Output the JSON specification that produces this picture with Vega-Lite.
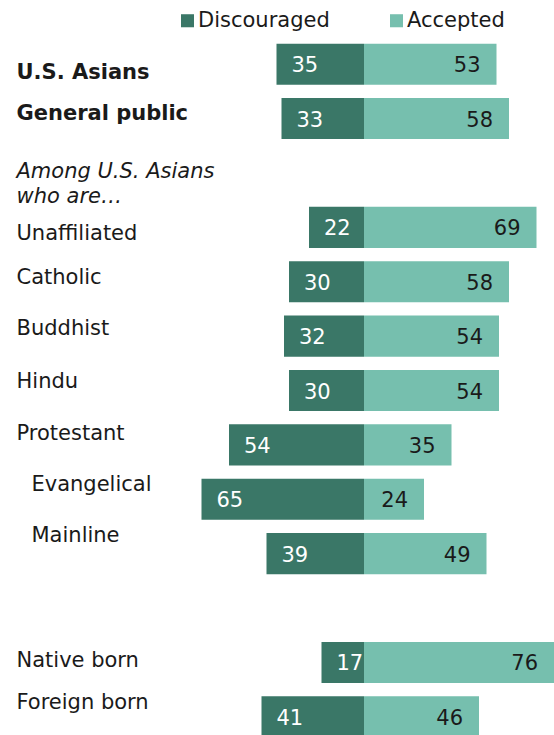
{
  "$schema": "https://vega.github.io/schema/vega-lite/v6.json",
  "width": 554,
  "height": 707,
  "autosize": {"type": "none"},
  "padding": {"top": 37, "left": 0, "right": 0, "bottom": 0},
  "config": {"view": {"stroke": null}, "font": "DejaVu Sans"},
  "data": {
    "values": [
      {"group": "U.S. Asians", "response": "Discouraged", "value": 35},
      {"group": "U.S. Asians", "response": "Accepted", "value": 53},
      {"group": "General public", "response": "Discouraged", "value": 33},
      {"group": "General public", "response": "Accepted", "value": 58},
      {"group": "Unaffiliated", "response": "Discouraged", "value": 22},
      {"group": "Unaffiliated", "response": "Accepted", "value": 69},
      {"group": "Catholic", "response": "Discouraged", "value": 30},
      {"group": "Catholic", "response": "Accepted", "value": 58},
      {"group": "Buddhist", "response": "Discouraged", "value": 32},
      {"group": "Buddhist", "response": "Accepted", "value": 54},
      {"group": "Hindu", "response": "Discouraged", "value": 30},
      {"group": "Hindu", "response": "Accepted", "value": 54},
      {"group": "Protestant", "response": "Discouraged", "value": 54},
      {"group": "Protestant", "response": "Accepted", "value": 35},
      {"group": "Evangelical", "response": "Discouraged", "value": 65},
      {"group": "Evangelical", "response": "Accepted", "value": 24},
      {"group": "Mainline", "response": "Discouraged", "value": 39},
      {"group": "Mainline", "response": "Accepted", "value": 49},
      {"group": "Native born", "response": "Discouraged", "value": 17},
      {"group": "Native born", "response": "Accepted", "value": 76},
      {"group": "Foreign born", "response": "Discouraged", "value": 41},
      {"group": "Foreign born", "response": "Accepted", "value": 46}
    ]
  },
  "transform": [
    {"calculate": "datum.response == 'Discouraged' ? -datum.value : datum.value", "as": "signed"}
  ],
  "encoding": {
    "y": {
      "field": "group",
      "type": "nominal",
      "sort": null,
      "scale": {
        "domain": ["U.S. Asians", "General public", "Among U.S. Asians|who are…", "Unaffiliated", "Catholic", "Buddhist", "Hindu", "Protestant", "Evangelical", "Mainline", " ", "Native born", "Foreign born"],
        "paddingInner": 0.245,
        "paddingOuter": 0.1225
      },
      "axis": {
        "title": null,
        "domain": false,
        "ticks": false,
        "tickSize": 0,
        "labelAlign": "left",
        "labelFont": "DejaVu Sans",
        "labelFontSize": 21,
        "labelColor": "#1a1a1a",
        "labelLimit": 400,
        "labelLineHeight": 25,
        "labelExpr": "split(datum.label, '|')",
        "labelPadding": {"condition": {"test": "datum.value == 'Evangelical' || datum.value == 'Mainline'", "value": -31}, "value": -16},
        "labelFontWeight": {"condition": {"test": "datum.value == 'U.S. Asians' || datum.value == 'General public'", "value": "bold"}, "value": "normal"},
        "labelFontStyle": {"condition": {"test": "indexof(datum.value, 'Among') == 0", "value": "italic"}, "value": "normal"},
        "labelOffset": {
          "condition": [
            {"test": "datum.value == 'U.S. Asians'", "value": 9},
            {"test": "datum.value == 'General public'", "value": -5},
            {"test": "indexof(datum.value, 'Among') == 0", "value": -1},
            {"test": "datum.value == 'Unaffiliated'", "value": 7},
            {"test": "datum.value == 'Catholic'", "value": -4},
            {"test": "datum.value == 'Buddhist'", "value": -7},
            {"test": "datum.value == 'Hindu'", "value": -9},
            {"test": "datum.value == 'Protestant'", "value": -11},
            {"test": "datum.value == 'Evangelical'", "value": -14},
            {"test": "datum.value == 'Mainline'", "value": -18},
            {"test": "datum.value == 'Native born'", "value": -1},
            {"test": "datum.value == 'Foreign born'", "value": -14}
          ],
          "value": 0
        }
      }
    }
  },
  "layer": [
    {
      "mark": {"type": "bar"},
      "encoding": {
        "x": {"field": "signed", "type": "quantitative", "scale": {"domain": [-145.6, 76], "nice": false, "zero": false}, "axis": null},
        "color": {
          "field": "response",
          "type": "nominal",
          "scale": {"domain": ["Discouraged", "Accepted"], "range": ["#3a7767", "#76bfae"]},
          "legend": {
            "title": null,
            "orient": "none",
            "legendX": 177,
            "legendY": -27,
            "direction": "horizontal",
            "symbolType": "square",
            "symbolSize": 170,
            "symbolStrokeWidth": 0,
            "symbolOpacity": 1,
            "labelFont": "DejaVu Sans",
            "labelFontSize": 21,
            "labelColor": "#1a1a1a",
            "labelOffset": 0,
            "columnPadding": 56,
            "padding": 0
          }
        }
      }
    },
    {
      "transform": [{"filter": "datum.response == 'Discouraged'"}],
      "mark": {"type": "text", "align": "left", "dx": 15, "dy": 2, "color": "white", "fontSize": 21, "font": "DejaVu Sans"},
      "encoding": {
        "x": {"field": "signed", "type": "quantitative"},
        "text": {"field": "value", "type": "quantitative"}
      }
    },
    {
      "transform": [{"filter": "datum.response == 'Accepted'"}],
      "mark": {"type": "text", "align": "right", "dx": -16, "dy": 2, "color": "#1a1a1a", "fontSize": 21, "font": "DejaVu Sans"},
      "encoding": {
        "x": {"field": "signed", "type": "quantitative"},
        "text": {"field": "value", "type": "quantitative"}
      }
    }
  ]
}
